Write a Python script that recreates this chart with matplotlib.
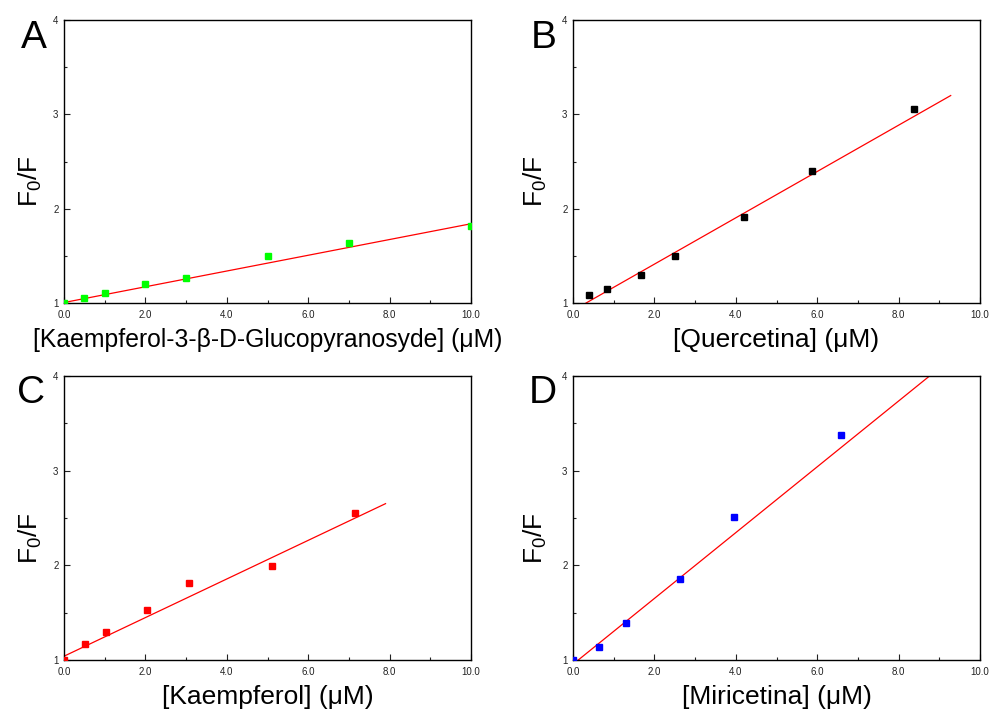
import matplotlib
matplotlib.use("Agg")
import matplotlib.pyplot as plt
import numpy as np
from matplotlib.ticker import MultipleLocator, FormatStrFormatter

plt.rcParams['font.family'] = ['Liberation Sans', 'DejaVu Sans']
plt.rcParams['mathtext.default'] = 'regular'

# data
xa = [0, 0.5, 1.0, 2.0, 3.0, 5.0, 7.0, 10.0]
ya = [1.0, 1.05, 1.11, 1.20, 1.26, 1.50, 1.64, 1.82]
xb = [0.39, 0.83, 1.66, 2.50, 4.19, 5.87, 8.37]
yb = [1.08, 1.15, 1.30, 1.50, 1.91, 2.40, 3.06]
xc = [0, 0.51, 1.02, 2.03, 3.06, 5.11, 7.15]
yc = [1.0, 1.17, 1.30, 1.53, 1.81, 1.99, 2.55]
xd = [0, 0.64, 1.30, 2.63, 3.96, 6.58]
yd = [1.0, 1.14, 1.39, 1.86, 2.51, 3.38]

# linear fits (intercept, slope, x start, x end)
fit_a = [1.005, 0.0835, 0.0, 10.0]
fit_b = [0.921, 0.2455, 0.32, 9.28]
fit_c = [1.04, 0.204, 0.0, 7.9]
fit_d = [0.955, 0.3476, 0.0, 8.76]

xlabels = ['[Kaempferol-3-\u03b2-D-Glucopyranosyde] (\u03bcM)',
           '[Quercetina] (\u03bcM)',
           '[Kaempferol] (\u03bcM)',
           '[Miricetina] (\u03bcM)']
xlab_size = [17.8, 19, 19, 19]
letters = ['A', 'B', 'C', 'D']
colors = ['#00ff00', 'black', '#ff0000', '#0000ff']

W, H = 991, 716
fig = plt.figure(figsize=(W / 100, H / 100), dpi=100)

# axes boxes in pixels: left, top, right, bottom
boxes = [(64, 20, 471, 303), (573, 20, 980, 303),
         (64, 376, 471, 660), (573, 376, 980, 660)]
letter_pos = [(21, 48), (531, 48), (17, 403), (529, 403)]
ylab_x = [-0.05, -0.058, -0.05, -0.058]

data = [(xa, ya, fit_a), (xb, yb, fit_b), (xc, yc, fit_c), (xd, yd, fit_d)]

for i, (x, y, fit) in enumerate(data):
    l, t, r, b = boxes[i]
    ax = fig.add_axes([l / W, 1 - b / H, (r - l) / W, (b - t) / H])
    xs = np.array([fit[2], fit[3]])
    ax.plot(xs, fit[0] + fit[1] * xs, color='#ff0000', lw=0.9, zorder=2)
    ax.plot(x, y, 's', color=colors[i], ms=5, zorder=3)
    ax.set_xlim(0, 10)
    ax.set_ylim(1, 4)
    ax.xaxis.set_major_locator(MultipleLocator(2))
    ax.xaxis.set_minor_locator(MultipleLocator(1))
    ax.yaxis.set_major_locator(MultipleLocator(1))
    ax.yaxis.set_minor_locator(MultipleLocator(0.5))
    ax.xaxis.set_major_formatter(FormatStrFormatter('%.1f'))
    ax.tick_params(which='both', direction='in', labelsize=7, colors='#222222')
    ax.tick_params(which='major', length=4, width=0.8)
    ax.tick_params(which='minor', length=2.5, width=0.8)
    ax.tick_params(axis='x', pad=5)
    ax.tick_params(axis='y', pad=4)
    for s in ax.spines.values():
        s.set_linewidth(1.0)
    ax.set_xlabel(xlabels[i], fontsize=xlab_size[i], va='top')
    ax.xaxis.set_label_coords(0.5, -0.088)
    ax.set_ylabel('F$_0$/F', fontsize=19, va='bottom')
    ax.yaxis.set_label_coords(ylab_x[i], 0.43)
    lx, ly = letter_pos[i]
    fig.text(lx / W, 1 - ly / H, letters[i], fontsize=28, va='baseline', ha='left')

fig.savefig('out.png', dpi=100)
